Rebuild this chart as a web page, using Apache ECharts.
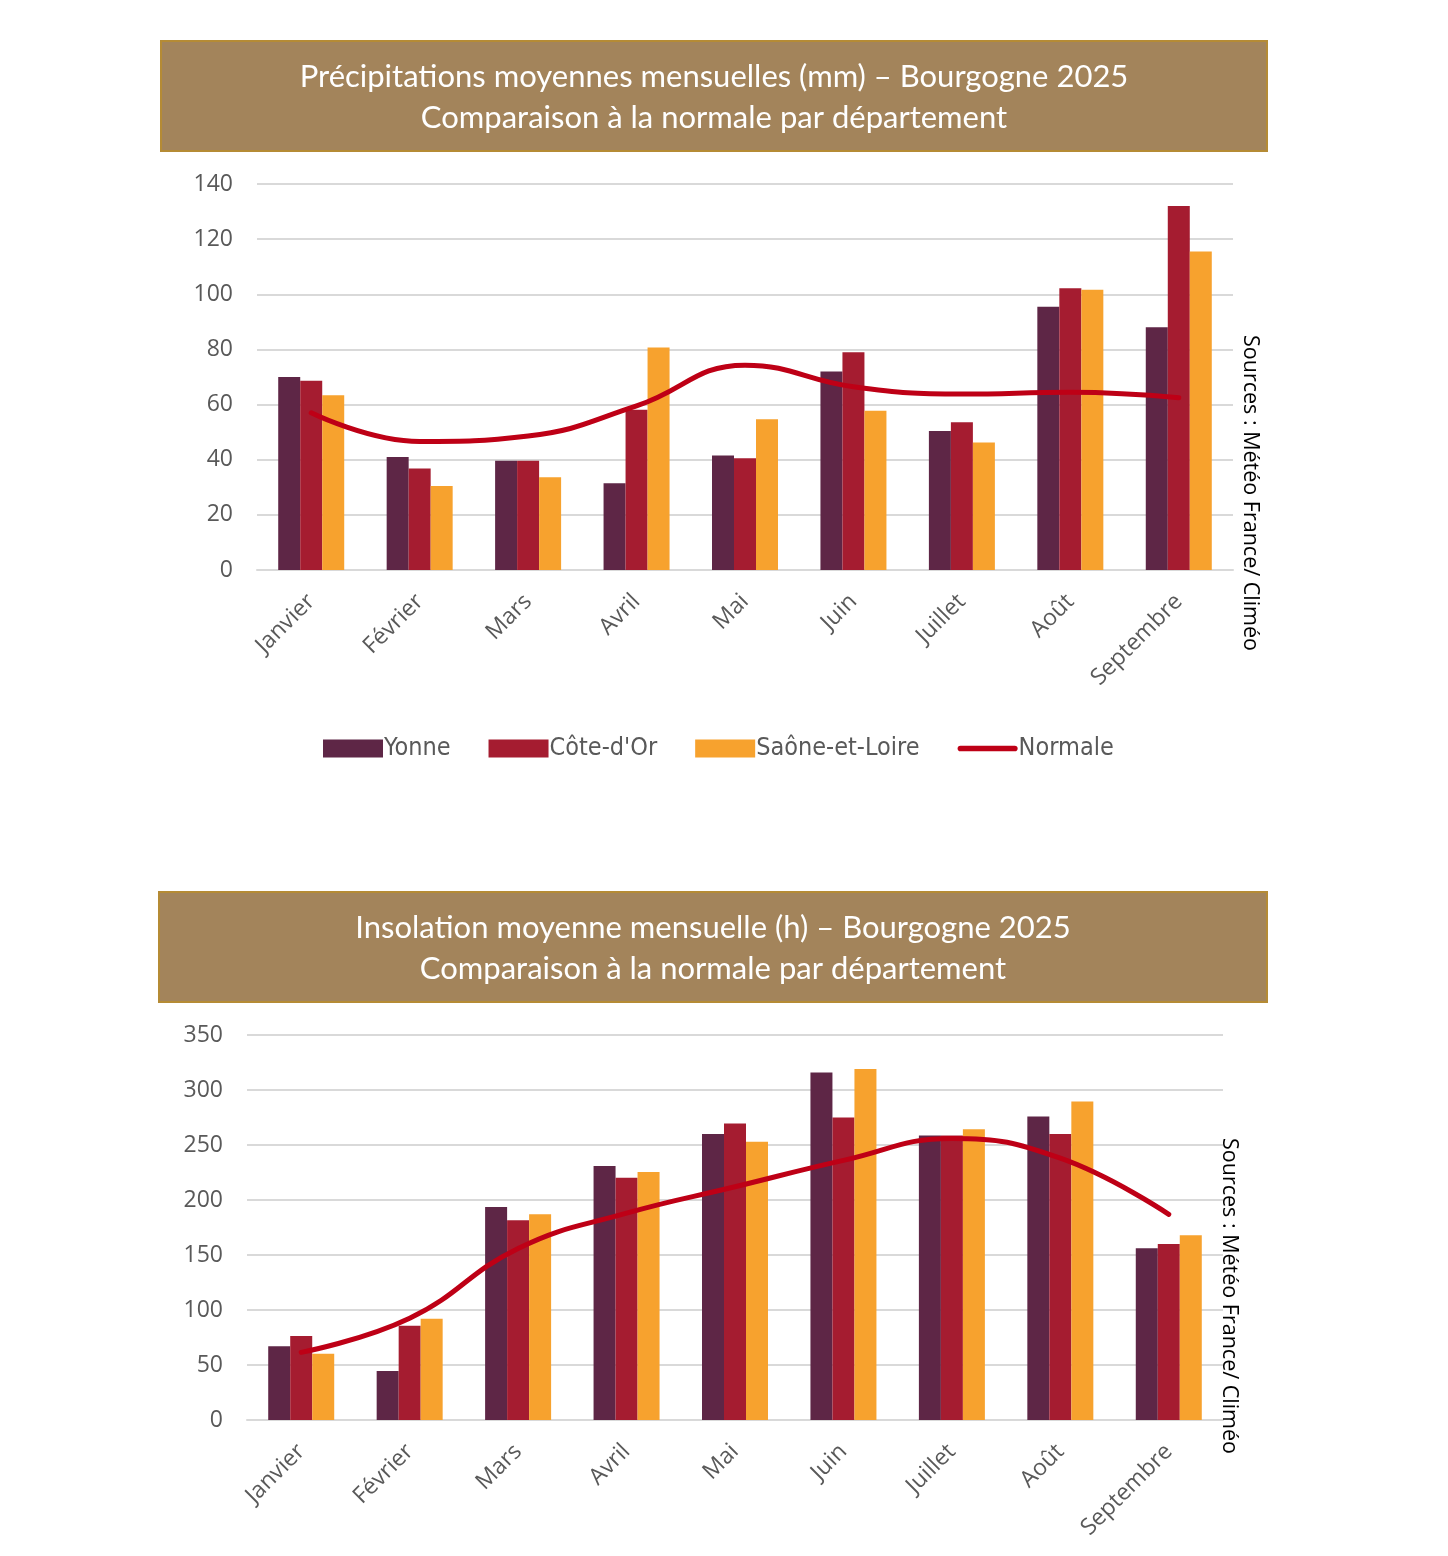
<!DOCTYPE html>
<html>
<head>
<meta charset="utf-8">
<script src="https://cdn.jsdelivr.net/npm/echarts@6/dist/echarts.min.js"></script>
<style>
html,body{margin:0;padding:0;background:#fff;}
#c{width:1448px;height:1556px;}
</style>
</head>
<body>
<div id="c"></div>
<script>
// ---- Data ----
var months = ['Janvier','Février','Mars','Avril','Mai','Juin','Juillet','Août','Septembre'];

var precipYonne  = [70, 41, 39.6, 31.5, 41.5, 72, 50.4, 95.5, 88];
var precipCote   = [68.6, 36.8, 39.6, 58.1, 40.5, 79, 53.6, 102.2, 132];
var precipSaone  = [63.4, 30.5, 33.6, 80.7, 54.7, 57.8, 46.2, 101.6, 115.5];
var precipNormale= [57, 46.6, 48.6, 59.5, 74.3, 66.5, 63.8, 64.5, 62.5];

var sunYonne   = [67, 44.5, 193.6, 231, 260, 316, 258.6, 276, 156.2];
var sunCote    = [76.3, 85.7, 181.7, 220.3, 269.5, 275, 258.6, 260, 160];
var sunSaone   = [60.2, 92, 187, 225.5, 253, 319, 264.4, 289.6, 168];
var sunNormale = [61.5, 92.5, 156, 188, 212, 236, 256, 238, 187];

var precipTicks = {min:0, max:140, interval:20};
var sunTicks    = {min:0, max:350, interval:50};

var seriesNames = ['Yonne', "Côte-d'Or", 'Saône-et-Loire', 'Normale'];
var colors = ['#5E2646', '#A51C30', '#F7A22E', '#BE0016'];

var title1 = ['Précipitations moyennes mensuelles (mm) – Bourgogne 2025', 'Comparaison à la normale par département'];
var title2 = ['Insolation moyenne mensuelle (h) – Bourgogne 2025', 'Comparaison à la normale par département'];
var sourceText = 'Sources : Météo France/ Climéo';

// ---- Chart ----
var chart = echarts.init(document.getElementById('c'), null, {renderer:'canvas'});

var tickFont = '"Open Sans", "Noto Sans", sans-serif';
var titleFont = 'Lato, "Open Sans", sans-serif';

function xAx(gi){
  return {
    type:'category', gridIndex:gi, data:months,
    axisTick:{show:false},
    axisLine:{show:true, lineStyle:{color:'#D9D9D9', width:2}},
    axisLabel:{rotate:45, fontSize:23, color:'#595959', fontFamily:tickFont, margin:28, interval:0}
  };
}
function yAx(gi, t){
  return {
    type:'value', gridIndex:gi, min:t.min, max:t.max, interval:t.interval,
    axisLine:{show:false}, axisTick:{show:false},
    splitLine:{lineStyle:{color:'#D9D9D9', width:2}},
    axisLabel:{fontSize:23, color:'#595959', fontFamily:tickFont, margin:24}
  };
}
function bar(name, data, color, gi){
  return {name:name, type:'bar', xAxisIndex:gi, yAxisIndex:gi, data:data,
    barWidth:22, barGap:'0%', itemStyle:{color:color}, emphasis:{disabled:true}};
}
function line(name, data, gi){
  return {name:name, type:'line', xAxisIndex:gi, yAxisIndex:gi, data:data,
    smooth:0.45, symbol:'none', lineStyle:{color:colors[3], width:5, cap:'round'},
    itemStyle:{color:colors[3]}, z:5, emphasis:{disabled:true}};
}

function banner(x, y, w, h, lines){
  return [
    {type:'rect', shape:{x:x, y:y, width:w, height:h},
     style:{fill:'#A3845B', stroke:'#B58B35', lineWidth:2}, z:10},
    {type:'text', x:x + w/2, y:y + h/2 + 1, z:11,
     style:{text:lines.join('\n'), fill:'#ffffff', font:'31px ' + titleFont,
            textAlign:'center', textVerticalAlign:'middle', lineHeight:41}}
  ];
}

var option = {
  animation:false,
  backgroundColor:'#ffffff',
  color:colors,
  grid:[
    {left:257, right:215, top:184, bottom:986, containLabel:false},
    {left:247, right:225, top:1035, bottom:136, containLabel:false}
  ],
  xAxis:[xAx(0), xAx(1)],
  yAxis:[yAx(0, precipTicks), yAx(1, sunTicks)],
  legend:{
    left:318, top:731, itemWidth:60, itemHeight:18, itemGap:38,
    textStyle:{fontSize:25, color:'#595959', fontFamily:'"Liberation Sans Narrow", "DejaVu Sans Condensed", sans-serif', padding:[0,0,0,-4]},
    data:[
      {name:seriesNames[0], icon:'rect'},
      {name:seriesNames[1], icon:'rect'},
      {name:seriesNames[2], icon:'rect'},
      {name:seriesNames[3], icon:'path://M3,0 L61,0 A3,3 0 0 1 61,6 L3,6 A3,3 0 0 1 3,0 Z', itemStyle:{color:colors[3]}}
    ],
    selectedMode:false
  },
  graphic:[].concat(
    banner(161, 41, 1106, 110, title1),
    banner(159, 892, 1108, 110, title2),
    [
      {type:'text', x:1250, y:493, rotation:-Math.PI/2, z:11,
       style:{text:sourceText, fill:'#000000', font:'21.5px ' + tickFont, textAlign:'center', textVerticalAlign:'middle'}},
      {type:'text', x:1229, y:1296, rotation:-Math.PI/2, z:11,
       style:{text:sourceText, fill:'#000000', font:'21.5px ' + tickFont, textAlign:'center', textVerticalAlign:'middle'}}
    ]
  ),
  series:[
    bar(seriesNames[0], precipYonne, colors[0], 0),
    bar(seriesNames[1], precipCote, colors[1], 0),
    bar(seriesNames[2], precipSaone, colors[2], 0),
    line(seriesNames[3], precipNormale, 0),
    bar(seriesNames[0], sunYonne, colors[0], 1),
    bar(seriesNames[1], sunCote, colors[1], 1),
    bar(seriesNames[2], sunSaone, colors[2], 1),
    line(seriesNames[3], sunNormale, 1)
  ]
};
chart.setOption(option);
</script>
</body>
</html>
